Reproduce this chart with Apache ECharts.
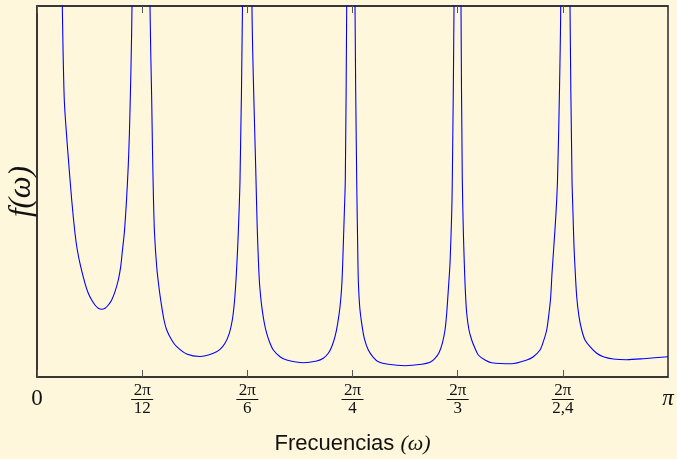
<!DOCTYPE html>
<html>
<head>
<meta charset="utf-8">
<script src="https://cdn.jsdelivr.net/npm/echarts@6/dist/echarts.min.js"></script>
<style>
html,body{margin:0;padding:0;background:#FFF7DC;}
#c{width:677px;height:459px;}
</style>
</head>
<body>
<div id="c"></div>
<script>
// Frequencies (radians)
const omega = [0,
  0.1260, 0.1359, 0.1528, 0.1728, 0.1892, 0.2006, 0.2176, 0.2390, 0.2554, 0.2723, 0.2888, 0.3052, 0.3221, 0.3386, 0.3550, 0.3719, 0.3883, 0.4048, 0.4167, 0.4256, 0.4347, 0.4457, 0.4541, 0.4601, 0.4680, 0.4730,
  0.5236,
  0.5626, 0.5711, 0.5750, 0.5800, 0.5850, 0.5960, 0.6089, 0.6209, 0.6323, 0.6458, 0.6706, 0.6955, 0.7453, 0.8115, 0.8778, 0.9111, 0.9360, 0.9574, 0.9724, 0.9823, 0.9908, 0.9993, 1.0057, 1.0107, 1.0231,
  1.0472,
  1.0704, 1.0904, 1.0968, 1.1068, 1.1153, 1.1237, 1.1337, 1.1436, 1.1601, 1.1765, 1.2098, 1.2432, 1.3259, 1.3926, 1.4254, 1.4503, 1.4673, 1.4837, 1.4971, 1.5086, 1.5170, 1.5220, 1.5300, 1.5350, 1.5419,
  1.5708,
  1.5833, 1.5917, 1.5967, 1.5997, 1.6067, 1.6166, 1.6296, 1.6495, 1.6744, 1.6993, 1.7491, 1.8322, 1.9154, 1.9567, 1.9816, 2.0015, 2.0179, 2.0314, 2.0398, 2.0478, 2.0563, 2.0647, 2.0677, 2.0762,
  2.0944,
  2.1110, 2.1175, 2.1225, 2.1274, 2.1324, 2.1394, 2.1508, 2.1643, 2.1807, 2.1971, 2.2305, 2.2638, 2.3634, 2.4381, 2.4710, 2.5043, 2.5208, 2.5377, 2.5491, 2.5576, 2.5641, 2.5731, 2.5840, 2.5915, 2.6004, 2.6074,
  2.6180,
  2.6537, 2.6637, 2.6686, 2.6736, 2.6801, 2.6871, 2.6985, 2.7120, 2.7284, 2.7533, 2.7866, 2.8195, 2.8693, 2.9360, 3.0187, 3.1416];
// Spectral density f(omega), arbitrary units (axis top = 371)
const fValue = [2000,
  371, 277, 227, 177, 143.7, 127, 110.3, 93.7, 83.7, 77, 72, 68.7, 67.7, 68.7, 72, 77, 85.3, 97, 110.3, 127, 144, 177, 210.3, 243.7, 310.3, 371,
  2000,
  371, 277, 227, 177, 144, 110.3, 87, 70.3, 57, 47, 37, 30.3, 23, 20.5, 23.7, 27.7, 33.7, 43.7, 57, 73.7, 97, 130.3, 163.7, 197, 371,
  2000,
  371, 197, 147, 97, 77, 63.7, 52, 43.7, 33.7, 27, 20.3, 17, 14.3, 16, 18.7, 23.7, 30.3, 40.3, 53.7, 70.3, 90.3, 113.7, 163.7, 197, 371,
  2000,
  371, 197, 130.3, 97, 70.3, 53.7, 38.7, 27, 19.7, 15.3, 12.7, 11.3, 12.7, 14.7, 18.7, 24.3, 33.7, 47, 63.7, 87, 113.7, 163.7, 197, 371,
  2000,
  371, 197, 147, 113.7, 87, 63.7, 47, 37, 28.7, 22, 17, 14.3, 13.3, 17, 20.3, 27, 35.3, 47, 63.7, 80.3, 103.7, 130.3, 164, 197, 277, 371,
  2000,
  371, 197, 163.7, 130.3, 103.7, 80.3, 60.3, 47, 37, 30.3, 23.7, 20.3, 18, 17.3, 18.3, 20.3];
// Tick labels: [numerator, denominator] or single
const tickLabels = [['0'], ['2π', '12'], ['2π', '6'], ['2π', '4'], ['2π', '3'], ['2π', '2,4'], ['π']];
const xTitle = 'Frecuencias ';
const xTitleMath = '(ω)';
const yTitle = 'f(ω)';

const chart = echarts.init(document.getElementById('c'), null, {renderer: 'canvas'});
const pts = omega.map((w, i) => [w, fValue[i]]);
const step = Math.PI / 6;
const serif = '"Liberation Serif", "DejaVu Serif", serif';

function fmt(v) {
  const i = Math.round(v / step);
  const t = tickLabels[i];
  if (!t) return '';
  if (t.length === 1) return i === 6 ? '{pi|' + t[0] + '}' : '{big|' + t[0] + '}';
  return '{n|' + t[0] + '}\n{bar|}\n{d|' + t[1] + '}';
}

chart.setOption({
  backgroundColor: '#FFF7DC',
  animation: false,
  grid: {left: 37, right: 9, top: 6, bottom: 82, containLabel: false, outerBoundsMode: 'none',
    show: true, borderColor: '#2b2b2b', borderWidth: 1.5, backgroundColor: 'transparent'},
  xAxis: [{
    type: 'value', min: 0, max: Math.PI, interval: step, position: 'bottom',
    axisLine: {show: true, lineStyle: {color: '#2b2b2b', width: 1.5}},
    axisTick: {show: true, inside: true, length: 7, lineStyle: {color: '#555', width: 1}},
    splitLine: {show: false},
    axisLabel: {
      show: true, margin: 6, interval: 0, showMinLabel: true, showMaxLabel: true,
      formatter: fmt,
      rich: {
        big: {fontFamily: serif, fontSize: 23, lineHeight: 31, color: '#111'},
        pi: {fontFamily: serif, fontSize: 23, lineHeight: 31, fontStyle: 'italic', color: '#111'},
        n: {fontFamily: serif, fontSize: 17, lineHeight: 15, color: '#111', align: 'center'},
        bar: {width: 22, height: 1, lineHeight: 3, backgroundColor: '#111', align: 'center'},
        d: {fontFamily: serif, fontSize: 17, lineHeight: 16, color: '#111', align: 'center'}
      }
    },
    name: '{t|' + xTitle + '}{m|' + xTitleMath + '}',
    nameLocation: 'middle', nameGap: 56,
    nameTextStyle: {
      rich: {
        t: {fontFamily: '"Liberation Sans", sans-serif', fontSize: 22, color: '#111'},
        m: {fontFamily: serif, fontSize: 22, fontStyle: 'italic', color: '#111'}
      }
    }
  }, {
    type: 'value', min: 0, max: Math.PI, interval: step, position: 'top',
    axisLine: {show: true, lineStyle: {color: '#2b2b2b', width: 1.5}},
    axisTick: {show: true, inside: true, length: 7, lineStyle: {color: '#555', width: 1}},
    axisLabel: {show: false}, splitLine: {show: false}
  }],
  yAxis: [{
    type: 'value', min: 0, max: 371,
    axisLine: {show: true, lineStyle: {color: '#2b2b2b', width: 1.5}},
    axisTick: {show: false}, axisLabel: {show: false}, splitLine: {show: false},
    name: yTitle, nameLocation: 'middle', nameGap: 0, nameRotate: 90,
    nameTextStyle: {fontFamily: serif, fontSize: 31, fontStyle: 'italic', color: '#111'}
  }],
  series: [{
    type: 'line', data: pts, xAxisIndex: 0, yAxisIndex: 0,
    showSymbol: false, clip: true, smooth: 0.25,
    lineStyle: {color: '#0000FF', width: 1.1}
  }]
});
</script>
</body>
</html>
